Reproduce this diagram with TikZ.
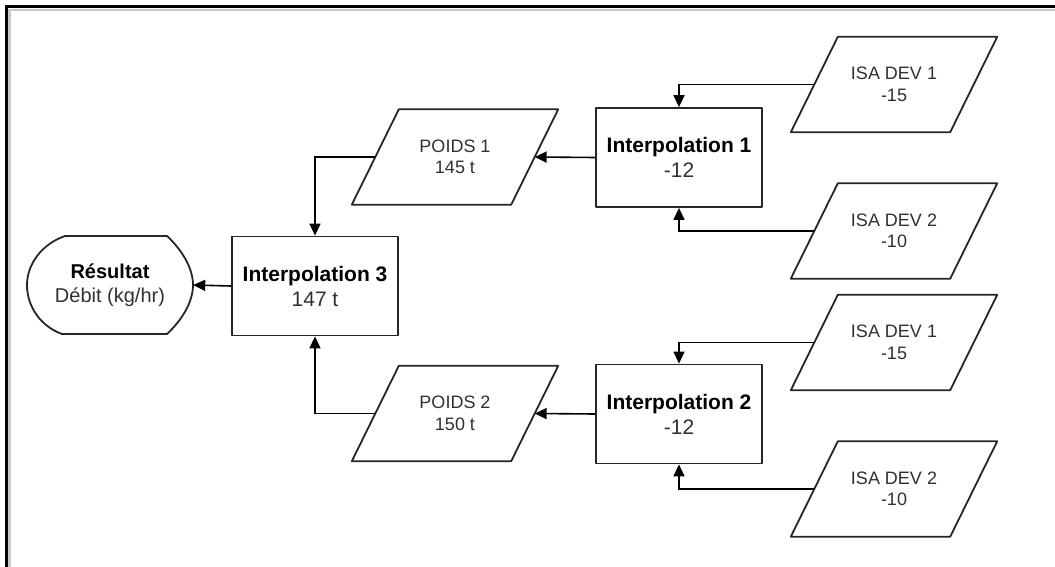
\documentclass[tikz,border=0pt]{standalone}
\usepackage{fontspec}
\setmainfont{Liberation Sans}
\usetikzlibrary{arrows.meta}
\definecolor{txt}{HTML}{303030}
\definecolor{framegray}{HTML}{C8C8C8}
\begin{document}
\begin{tikzpicture}[x=1pt,y=-1pt,
  shapeline/.style={draw=black!85,line width=1.8pt,line join=round},
  procbox/.style={shapeline,rectangle,inner sep=0pt,minimum width=166pt,minimum height=99pt,
    align=center,font=\fontsize{21}{25}\selectfont,text=txt},
  % slanted data box: the node is the body, the outline leans 23.5pt each way
  databox/.style={rectangle,inner sep=0pt,minimum width=159pt,minimum height=95pt,
    align=center,font=\fontsize{18}{21.5}\selectfont,text=txt,
    append after command={
      \pgfextra{\draw[shapeline]
        ([xshift=23.5pt]\tikzlastnode.north west) -- ([xshift=23.5pt]\tikzlastnode.north east)
        -- ([xshift=-23.5pt]\tikzlastnode.south east) -- ([xshift=-23.5pt]\tikzlastnode.south west)
        -- cycle;}}},
  conn/.style={draw=black,line width=1.6pt,-{Triangle[length=12pt,width=11pt]}},
  ttl/.style={font=\fontsize{21}{25}\selectfont\bfseries,text=black}]
\useasboundingbox (0,0) rectangle (1055,567);
% outer frame (runs past the page on the right and bottom)
\draw[framegray,line width=2.5pt] (9.5,600) -- (9.5,10) -- (1100,10);
\draw[black,line width=3pt] (6,600) -- (6,7) -- (1100,7);

% processing boxes
\node[procbox] (i1) at (679,157.5) {{\bfseries\color{black}Interpolation 1}\\-12};
\node[procbox] (i2) at (679,414) {{\bfseries\color{black}Interpolation 2}\\-12};
\node[procbox] (i3) at (315,286) {{\bfseries\color{black}Interpolation 3}\\147 t};

% input data
\node[databox] (isa1) at (894,84.5) {ISA DEV 1\\-15};
\node[databox] (isa2) at (894,231) {ISA DEV 2\\-10};
\node[databox] (isa3) at (894,342.5) {ISA DEV 1\\-15};
\node[databox] (isa4) at (894,489) {ISA DEV 2\\-10};
\node[databox] (p1) at (455,157) {POIDS 1\\145 t};
\node[databox] (p2) at (455,413.5) {POIDS 2\\150 t};

% result (display shape)
\draw[shapeline] (65,236) -- (167,236)
  .. controls (182,250) and (193,268) .. (193,285)
  .. controls (193,302) and (182,320) .. (167,334)
  -- (62,334)
  .. controls (40,326) and (27,306) .. (27,285)
  .. controls (27,264) and (42,244) .. (65,236) -- cycle;
\node[inner sep=0pt,minimum width=166pt,minimum height=98pt,align=center,
  font=\fontsize{20}{24}\selectfont,text=txt] (res) at (110,285)
  {{\bfseries\color{black}Résultat}\\Débit (kg/hr)};

% connectors
\draw[conn] (isa1.west) -| (i1.north);
\draw[conn] (isa2.west) -| (i1.south);
\draw[conn] (isa3.west) -| (i2.north);
\draw[conn] (isa4.west) -| (i2.south);
\draw[conn] (i1.west) -- (p1.east);
\draw[conn] (i2.west) -- (p2.east);
\draw[conn] (p1.west) -| (i3.north);
\draw[conn] (p2.west) -| (i3.south);
\draw[conn] (i3.west) -- (res.east);
\end{tikzpicture}
\end{document}
